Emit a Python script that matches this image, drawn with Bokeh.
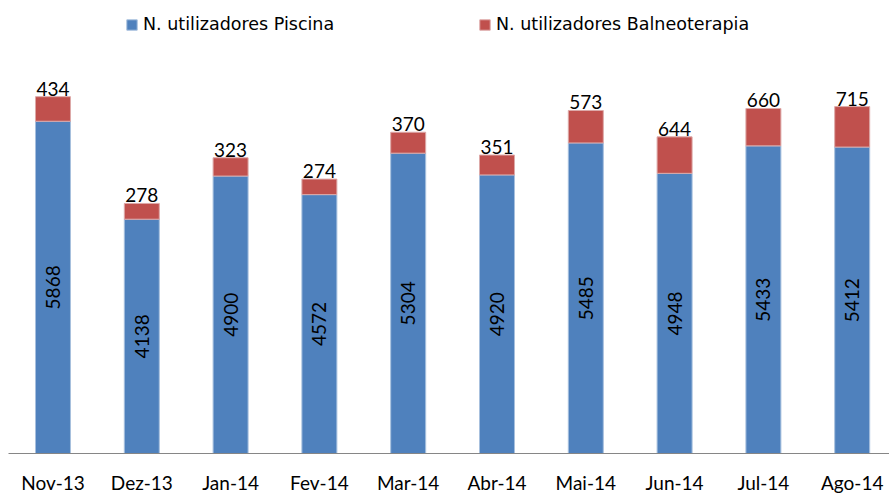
import numpy as np
from bokeh.plotting import figure
from bokeh.models import ColumnDataSource, Legend, LegendItem, FixedTicker, Range1d
from bokeh.core.properties import value
from bokeh.embed import file_html
from bokeh.resources import INLINE

months = ["Nov-13", "Dez-13", "Jan-14", "Fev-14", "Mar-14", "Abr-14", "Mai-14", "Jun-14", "Jul-14", "Ago-14"]
piscina = [5868, 4138, 4900, 4572, 5304, 4920, 5485, 4948, 5433, 5412]
balneo = [434, 278, 323, 274, 370, 351, 573, 644, 660, 715]

BLUE = "#4F81BD"
RED = "#C0504D"
FONT = "Lato"

x = list(range(len(months)))
top2 = [a + b for a, b in zip(piscina, balneo)]
src = ColumnDataSource(dict(
    x=x, p=piscina, b=balneo, top2=top2,
    mid=[v / 2 for v in piscina],
    plab=[str(v) for v in piscina], blab=[str(v) for v in balneo],
))

W, H = 889, 496
p = figure(width=W, height=H, output_backend="svg", toolbar_location=None,
           x_range=Range1d(-0.501, 9.42), y_range=Range1d(0, 7859),
           min_border_left=8, min_border_right=0, min_border_top=8, min_border_bottom=42)
p.outline_line_color = None
p.xgrid.visible = False
p.ygrid.visible = False
p.yaxis.visible = False
p.background_fill_color = "white"

bw = 0.394
r1 = p.vbar(x="x", bottom=0, top="p", width=bw, source=src, fill_color=BLUE, line_color="#A7C0DE", line_width=1)
r2 = p.vbar(x="x", bottom="p", top="top2", width=bw, source=src, fill_color=RED, line_color="#DDA9A8", line_width=1)

p.text(x="x", y="mid", text="plab", source=src, angle=np.pi / 2, text_align="center",
       text_baseline="middle", text_font=value(FONT), text_font_size="19px", text_color="black")
p.text(x="x", y="top2", text="blab", source=src, text_align="center", y_offset=-1,
       text_baseline="bottom", text_font=value(FONT), text_font_size="19px", text_color="black")

ax = p.xaxis[0]
ax.ticker = FixedTicker(ticks=x)
ax.major_label_overrides = {i: m for i, m in zip(x, months)}
ax.major_tick_line_color = None
ax.minor_tick_line_color = None
ax.major_tick_out = 0
ax.major_tick_in = 0
ax.axis_line_color = "#868686"
ax.axis_line_width = 1
ax.major_label_standoff = 17
ax.major_label_text_font = FONT
ax.major_label_text_font_size = "19px"
ax.major_label_text_color = "black"

for r, lab, xpos in [(r1, "N. utilizadores Piscina", 117), (r2, "N. utilizadores Balneoterapia", 470)]:
    lg = Legend(items=[LegendItem(label=lab, renderers=[r])], location=(xpos, 419),
                padding=0, margin=0, border_line_color=None, background_fill_alpha=0,
                glyph_width=13, glyph_height=13, label_standoff=5,
                label_text_font="DejaVu Sans", label_text_font_size="17.5px", label_text_color="black")
    p.add_layout(lg, "center")

open("out.html", "w").write(file_html(p, INLINE))
